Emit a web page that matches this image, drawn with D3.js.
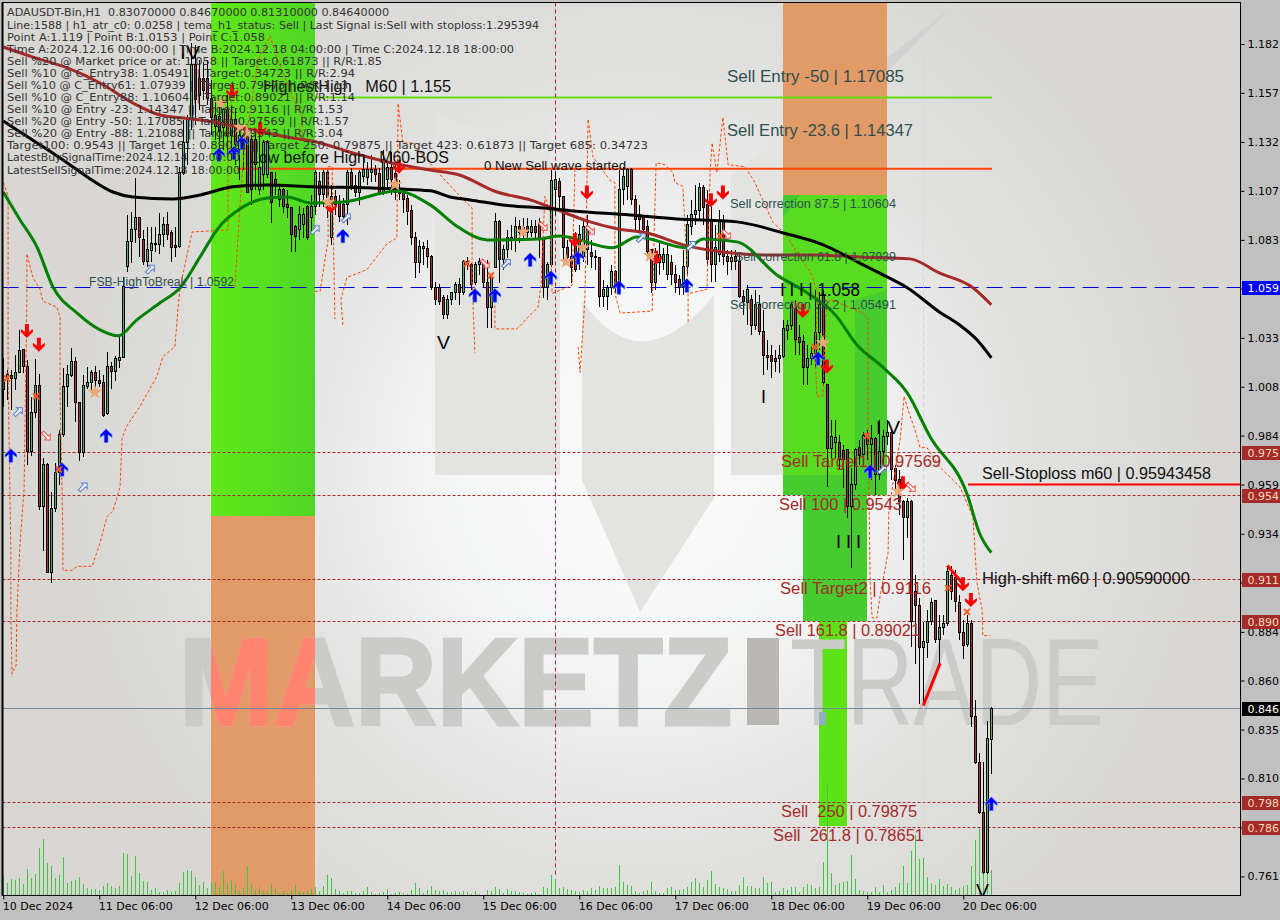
<!DOCTYPE html>
<html><head><meta charset="utf-8">
<style>html,body{margin:0;padding:0;background:#c0c0c0;overflow:hidden}svg{display:block}text{white-space:pre}</style>
<script src="https://cdn.jsdelivr.net/npm/d3@7/dist/d3.min.js"></script></head><body>
<svg id="c" width="1280" height="920"></svg>
<script>
const opens=[1.0072,1.0123,1.0143,1.0128,1.0158,1.0274,1.0189,.9759,.9956,1.0093,.9482,.9694,.9148,.9472,.9653,.9845,1.0088,1.0143,1.0214,1.0007,.9754,1.0088,1.0108,1.0158,1.0118,1.0108,.9951,1.0189,1.0163,1.0219,1.0234,1.0694,1.0820,1.0881,1.0941,1.0830,1.0719,1.0774,1.0810,1.0805,1.0855,1.0906,1.0865,1.0800,1.0795,1.1173,1.1320,1.1436,1.1714,1.1648,1.1648,1.1648,1.1547,1.1461,1.1456,1.1396,1.1487,1.1360,1.1436,1.1285,1.1360,1.1350,1.1335,1.1335,1.1083,1.1158,1.1158,1.1173,1.1133,1.1032,1.1083,1.1007,1.0992,1.0896,1.0881,1.0906,1.0997,1.0941,1.0997,1.1123,1.1057,1.1173,1.0840,1.1047,1.1017,1.1007,1.1007,1.1173,1.1103,1.1067,1.1148,1.1143,1.1173,1.1184,1.1168,1.1067,1.1133,1.1194,1.1168,1.1072,1.1067,1.1037,1.0976,1.0840,1.0714,1.0795,1.0785,1.0744,1.0588,1.0588,1.0537,1.0451,1.0527,1.0562,1.0603,1.0562,1.0719,1.0704,1.0613,1.0704,1.0704,1.0613,1.0487,1.0689,1.0921,1.0729,1.0780,1.0840,1.0830,1.0896,1.0865,1.0896,1.0865,1.0896,1.0906,1.0830,1.0588,1.0704,1.1083,1.1123,1.1047,1.0790,1.0744,1.0805,1.0739,1.0744,1.0780,1.0764,1.0744,1.0739,1.0542,1.0542,1.0588,1.0668,1.0593,1.1083,1.1098,1.1184,1.1032,1.0956,1.0941,1.0896,1.0780,1.0613,1.0714,1.0714,1.0653,1.0714,1.0653,1.0628,1.0593,1.0694,1.0896,1.0956,1.0981,1.1093,1.1007,1.0931,1.0704,1.0754,1.0921,1.0744,1.0719,1.0744,1.0719,1.0542,1.0512,1.0527,1.0396,1.0502,1.0365,1.0244,1.0244,1.0229,1.0229,1.0239,1.0370,1.0396,1.0487,1.0335,1.0315,1.0184,1.0229,1.0254,1.0360,1.0552,1.0098,.9775,.9805,.9805,.9764,.9769,.9482,.9593,.9780,.9744,.9840,.9795,.9825,.9643,.9759,.9835,.9855,.9674,.9618,.9507,.9426,.9507,.9052,.8982,.8770,.8795,.8901,.9007,.8810,.8871,.8891,.9133,.9123,.8997,.8845,.8785,.8891,.8421,.8189,.7936,.7633,.8307];
const closes=[1.0123,1.0148,1.0128,1.0158,1.0269,1.0189,.9759,.9956,1.0093,.9482,.9694,.9148,.9472,.9653,.9845,1.0088,1.0148,1.0214,1.0007,.9754,1.0093,1.0108,1.0158,1.0118,1.0103,.9941,1.0189,1.0163,1.0229,1.0234,1.0593,1.0820,1.0881,1.0941,1.0840,1.0719,1.0780,1.0810,1.0805,1.0855,1.0906,1.0855,1.0790,1.0790,1.1173,1.1320,1.1436,1.1714,1.1537,1.1562,1.1587,1.1547,1.1451,1.1401,1.1385,1.1487,1.1360,1.1436,1.1310,1.1360,1.1285,1.1072,1.1083,1.1209,1.1194,1.1320,1.1320,1.1017,1.1103,1.1083,1.0997,1.0992,1.0855,1.0845,1.0956,1.0956,1.0840,1.0997,1.1173,1.1057,1.1173,1.1042,1.1047,1.1007,1.0946,1.0946,1.1173,1.1103,1.1067,1.1173,1.1184,1.1184,1.1184,1.1158,1.1067,1.1234,1.1194,1.1133,1.1072,1.1067,1.1032,1.0971,1.0840,1.0714,1.0795,1.0785,1.0744,1.0588,1.0527,1.0517,1.0451,1.0527,1.0562,1.0603,1.0562,1.0719,1.0704,1.0603,1.0704,1.0719,1.0613,1.0487,1.0643,1.0921,1.0729,1.0780,1.0840,1.0830,1.0896,1.0865,1.0891,1.0865,1.0896,1.0865,1.0830,1.0588,1.0704,1.1128,1.1133,1.1047,1.0790,1.0739,1.0689,1.0678,1.0855,1.0896,1.0896,1.0744,1.0739,1.0542,1.0577,1.0588,1.0668,1.0593,1.1083,1.1148,1.1184,1.1032,1.0931,1.0931,1.0881,1.0770,1.0613,1.0764,1.0754,1.0754,1.0754,1.0653,1.0613,1.0588,1.0694,1.0906,1.0956,1.0981,1.1093,1.0992,1.0729,1.0704,1.0790,1.0921,1.0744,1.0719,1.0739,1.0719,1.0542,1.0517,1.0577,1.0396,1.0502,1.0365,1.0244,1.0234,1.0214,1.0214,1.0244,1.0380,1.0396,1.0502,1.0325,1.0310,1.0184,1.0229,1.0254,1.0360,1.0502,1.0108,.9775,.9835,.9830,.9719,.9719,.9482,.9593,.9769,.9739,.9840,.9795,.9825,.9643,.9759,.9835,.9855,.9668,.9613,.9507,.9426,.9507,.8901,.8982,.8770,.8800,.8901,.8997,.8810,.8871,.8891,.9153,.9052,.9002,.8845,.8780,.8891,.8421,.8189,.7936,.7633,.8310,.8464];
const highs=[1.0234,1.0174,1.0174,1.0249,1.0376,1.0279,1.0224,1.0037,1.0229,1.0153,.9729,.9704,.9557,.9704,.9870,1.0184,1.0199,1.0284,1.0239,1.0007,1.0148,1.0189,1.0174,1.0194,1.0174,1.0148,1.0264,1.0214,1.0244,1.0340,1.0643,1.0956,1.0971,1.1143,1.0946,1.0881,1.0896,1.0896,1.0896,1.0966,1.0946,1.0971,1.0881,1.0896,1.1199,1.1436,1.1461,1.1825,1.1815,1.1739,1.1729,1.1739,1.1638,1.1537,1.1512,1.1537,1.1562,1.1512,1.1497,1.1436,1.1396,1.1385,1.1360,1.1375,1.1360,1.1335,1.1335,1.1173,1.1173,1.1108,1.1093,1.1083,1.0997,1.0906,1.1002,1.0992,1.1007,1.1057,1.1184,1.1173,1.1184,1.1184,1.1108,1.1083,1.1057,1.1042,1.1184,1.1194,1.1158,1.1184,1.1249,1.1224,1.1259,1.1209,1.1194,1.1285,1.1219,1.1274,1.1209,1.1133,1.1093,1.1057,1.1007,1.0870,1.0830,1.0820,1.0830,1.0754,1.0618,1.0608,1.0552,1.0552,1.0567,1.0618,1.0638,1.0729,1.0744,1.0714,1.0719,1.0739,1.0719,1.0729,1.0643,1.0966,1.0931,1.0805,1.0881,1.0906,1.0946,1.0931,1.0941,1.0941,1.0931,1.0931,1.0941,1.0830,1.0719,1.1184,1.1173,1.1143,1.1047,1.0830,1.0830,1.0870,1.0906,1.0931,1.0956,1.0830,1.0780,1.0744,1.0628,1.0603,1.0704,1.0678,1.1184,1.1199,1.1194,1.1194,1.1057,1.1007,1.0956,1.0931,1.0780,1.0790,1.0820,1.0790,1.0805,1.0754,1.0704,1.0653,1.0780,1.0956,1.1032,1.1108,1.1118,1.1108,1.1083,1.0997,1.0906,1.0981,1.0956,1.0780,1.0780,1.0780,1.0754,1.0577,1.0603,1.0552,1.0577,1.0552,1.0477,1.0325,1.0300,1.0275,1.0300,1.0426,1.0426,1.0517,1.0527,1.0401,1.0350,1.0300,1.0290,1.0577,1.0567,1.0577,1.0098,.9921,.9921,.9845,.9795,.9775,.9679,.9780,.9820,.9860,.9870,.9896,.9835,.9921,.9870,.9921,.9870,.9694,.9668,.9517,.9527,.9517,.9138,.9022,.8901,.8961,.9022,.9012,.8936,.8936,.9184,.9184,.9163,.9037,.8911,.8936,.8911,.8507,.8239,.8189,.8396,.8467];
const lows=[.9987,1.0022,.9971,1.0072,1.0158,1.0158,.9694,.9739,.9931,.9467,.9259,.9148,.9098,.9456,.9593,.9835,.9987,1.0138,.9911,.9714,.9734,1.0078,1.0057,1.0072,1.0088,.9936,.9946,1.0078,1.0118,1.0184,1.0234,1.0668,1.0714,1.0815,1.0744,1.0704,1.0694,1.0719,1.0769,1.0759,1.0795,1.0830,1.0719,1.0744,1.0790,1.1158,1.1209,1.1385,1.1411,1.1487,1.1537,1.1512,1.1360,1.1335,1.1295,1.1285,1.1259,1.1234,1.1209,1.1133,1.1184,1.1072,1.1007,1.1083,1.1057,1.1083,1.1143,1.0916,1.1057,1.0997,1.0966,1.0941,1.0769,1.0769,1.0830,1.0840,1.0830,1.0870,1.0956,1.0997,1.0997,1.0941,1.0805,1.0956,1.0921,1.0921,1.0906,1.1083,1.1047,1.1007,1.1123,1.1108,1.1123,1.1123,1.1057,1.1057,1.1093,1.1057,1.1032,1.1032,1.0966,1.0906,1.0805,1.0638,1.0663,1.0704,1.0689,1.0577,1.0502,1.0502,1.0431,1.0431,1.0502,1.0527,1.0502,1.0552,1.0678,1.0577,1.0603,1.0653,1.0588,1.0386,1.0386,1.0689,1.0613,1.0678,1.0739,1.0780,1.0770,1.0815,1.0830,1.0830,1.0845,1.0830,1.0739,1.0537,1.0527,1.0694,1.0956,1.0992,1.0729,1.0704,1.0613,1.0668,1.0678,1.0719,1.0704,1.0689,1.0678,1.0492,1.0492,1.0477,1.0552,1.0562,1.0552,1.1007,1.1032,1.1007,1.0881,1.0865,1.0840,1.0739,1.0562,1.0577,1.0653,1.0678,1.0628,1.0603,1.0562,1.0552,1.0552,1.0653,1.0855,1.0906,1.0931,1.0906,1.0704,1.0618,1.0618,1.0719,1.0704,1.0653,1.0678,1.0678,1.0537,1.0451,1.0401,1.0350,1.0375,1.0350,1.0148,1.0174,1.0133,1.0163,1.0158,1.0234,1.0325,1.0375,1.0249,1.0249,1.0098,1.0098,1.0199,1.0184,1.0274,1.0098,.9583,.9729,.9729,.9668,.9578,.9426,.9174,.9567,.9694,.9694,.9719,.9618,.9542,.9618,.9668,.9795,.9618,.9567,.9441,.9214,.9325,.8770,.8684,.8482,.8477,.8719,.8886,.8795,.8684,.8835,.8881,.9012,.8951,.8810,.8714,.8770,.8366,.8179,.7926,.7623,.7623,.8131];
const volumes=[20,13,17,16,18,12,27,18,22,48,57,33,30,18,21,39,13,15,16,19,12,8,7,7,6,10,13,10,8,10,43,42,20,40,23,15,14,6,8,4,4,6,4,5,13,24,26,25,19,11,14,8,13,14,9,25,13,16,11,5,8,30,12,6,9,5,5,12,7,3,5,3,6,11,5,4,5,7,9,5,10,21,18,7,5,3,5,5,3,3,5,9,4,2,3,4,7,2,3,4,3,2,6,13,8,3,6,10,6,5,6,4,4,5,4,5,4,2,5,2,1,6,5,9,7,3,7,5,5,4,3,2,3,4,2,9,8,21,17,8,9,7,6,5,4,6,5,8,6,10,8,8,8,9,31,14,11,10,5,3,5,6,14,5,3,3,8,9,6,6,7,9,14,18,13,9,16,25,12,9,8,7,5,5,11,19,10,10,8,8,19,13,14,4,5,8,6,9,9,4,9,12,11,8,9,34,111,23,11,13,14,15,41,17,6,5,4,4,9,4,11,4,6,9,13,30,13,45,61,37,38,19,13,11,17,10,12,9,6,8,10,11,30,56,68,23,23,26];

const blackMA=[[0,1.1431],[4.2,1.1375],[9.2,1.1310],[16,1.1219],[21,1.1148],[27.4,1.1072],[32.4,1.1047],[42.4,1.1037],[49.2,1.1057],[57.4,1.1098],[66,1.1108],[77.4,1.1098],[91,1.1093],[106.7,1.1078],[111.7,1.1047],[116.7,1.1032],[126.7,1.1002],[135,1.0991],[142.4,1.0976],[156.7,1.0956],[168.4,1.0936],[183.4,1.0921],[195,1.0865],[205,1.0805],[214,1.0714],[219,1.0663],[226,1.0588],[234,1.0466],[239,1.0401],[243.4,1.0325],[247,1.0234]];
const brownMA=[[0,1.1805],[7.4,1.1754],[16,1.1699],[24.2,1.1623],[32.4,1.1522],[39.2,1.1461],[45,1.1446],[52.4,1.1426],[62.4,1.1385],[71,1.1350],[79.2,1.1320],[87.4,1.1269],[96,1.1224],[106.7,1.1183],[114,1.1158],[123.4,1.1072],[131.7,1.1032],[138.4,1.0982],[146.7,1.0921],[153.4,1.0886],[161,1.0865],[170,1.0805],[176,1.0780],[190,1.0754],[202.4,1.0754],[214,1.0744],[226.7,1.0734],[234,1.0663],[242.4,1.0588],[247,1.0502]];
const greenMA=[[0,1.1072],[4.2,1.0931],[8.4,1.0795],[12.4,1.0593],[18.4,1.0461],[24.2,1.0375],[28.7,1.0345],[33.4,1.0426],[39.2,1.0512],[44.2,1.0588],[49.2,1.0744],[53.4,1.0881],[60,1.0997],[66,1.1042],[71,1.1047],[76.7,1.1017],[85,1.1022],[98.4,1.1077],[106.7,1.1007],[114,1.0891],[121,1.0830],[134,1.0835],[139,1.0850],[152.4,1.0790],[158.4,1.0845],[171,1.0790],[175,1.0835],[183.4,1.0820],[193.4,1.0653],[201,1.0562],[208,1.0451],[213.4,1.0300],[220,1.0184],[226,1.0057],[231.7,.9835],[241,.9542],[244,.9350],[247,.9249]];

const bandA=[[0,1.112],[1.2,1.105],[1.2,1.014],[1.9,.923],[1.9,.894],[2.2,.862]];
const bandB=[[2.4,.865],[3.2,.868],[3.4,.895],[4.2,.930],[5.2,.957],[5.9,1.053],[5.9,1.076],[7.4,1.064],[9.2,1.058],[9.9,1.052],[13.4,1.049],[14.2,1.044],[14.2,1.007],[14.9,.933],[14.9,.916],[17.2,.916],[18.4,.918],[22.2,.918],[24.2,.930],[25.9,.943],[27.4,.946],[29.2,.958],[29.7,.983],[30.9,.989],[34.2,.999],[38.4,1.014],[39.9,1.024],[42.9,1.029],[43.7,1.049],[44.2,1.059],[47.2,1.087],[56.2,1.088],[56.2,1.139],[57.2,1.154]];
const bandC=[[57.9,1.059],[59.2,1.101],[60.2,1.128],[63.7,1.174],[66.7,1.186],[68.4,1.175],[72.4,1.155],[74.7,1.145],[74.7,1.134]];
const bandD=[[77.9,1.057],[79.2,1.057],[81.2,1.083],[81.2,1.120],[82.2,1.120],[82.9,1.043]];
const bandE=[[84.9,1.040],[84.4,1.053],[85.9,1.064],[90.9,1.068],[95.9,1.081],[98.4,1.084],[98.7,1.152],[99.9,1.132],[102.2,1.132],[108.7,1.117],[114.2,1.105],[117.2,1.099],[117.2,1.063],[117.9,1.026]];
const bandF=[[122.9,1.055],[122.9,1.038],[128.4,1.038],[131.7,1.045],[133.7,1.049],[134.4,1.060],[135.4,1.105],[136.7,1.097],[137.2,1.056],[142.2,1.060],[142.9,1.119]];
const bandG=[[143.7,1.029],[144.2,1.016],[145.4,1.053],[146.2,1.144],[147.4,1.125],[151.7,1.113],[152.9,1.112],[152.9,1.056],[154.2,1.046],[162.2,1.047],[163.2,1.122],[165.4,1.121],[167.4,1.117],[167.9,1.112],[169.9,1.110],[171.2,1.058],[171.2,1.041]];
const bandH=[[171.7,1.056],[175.9,1.058],[176.7,1.117],[177.2,1.132],[178.4,1.117],[179.9,1.145],[181.2,1.121],[185.4,1.120],[187.9,1.112],[189.9,1.103],[192.4,1.092],[195.9,1.085],[199.2,1.074],[201.7,1.067],[203.7,1.056],[202.9,1.027],[203.4,1.004],[204.9,1.004],[205.7,1.048],[206.7,1.053],[214.9,1.046],[216.2,1.043],[216.2,.987],[216.7,.911],[217.2,.892],[218.4,.892],[219.2,.903],[219.9,.911],[221.2,.925],[221.4,.947],[224.2,.982],[225.2,1.004],[226.2,.997],[227.9,.987],[229.2,.978],[230.9,.978],[234.2,.968],[239.2,.958],[242.4,.943],[243.4,.910],[244.7,.896],[244.9,.883],[246.7,.883]];
const bands=[bandA,bandB,bandC,bandD,bandE,bandF,bandG,bandH];

const buySignals=[[1.9,.974],[14.7,.967],[25.7,.984],[53.9,1.126],[57.7,1.127],[59.7,1.132],[84.9,1.085],[117.9,1.055],[122.9,1.055],[131.7,1.073],[136.9,1.064],[143.7,1.074],[153.9,1.059],[170.9,1.060],[203.7,1.023],[216.7,.966],[247,.798]];
const sellSignals=[[5.9,1.037],[8.9,1.030],[57.2,1.158],[64.2,1.139],[81.9,1.100],[98.9,1.120],[145.9,1.107],[142.9,1.083],[163.2,1.074],[176.9,1.103],[179.9,1.107],[199.9,1.047],[205.9,1.019],[224.9,.960],[239.9,.909],[241.9,.901]];
const starMarks=[[22.9,1.006],[54.4,1.152],[59.2,1.140],[60.9,1.137],[81.2,1.102],[97.9,1.111],[129.9,1.087],[140.7,1.072],[144.9,1.079],[161.7,1.075],[204.9,1.031],[223.7,.956]];
const crossMarks=[[0.9,1.013],[8.2,1.004],[13.9,.967],[115.9,1.071],[121.9,1.065],[179.2,1.085],[202.9,1.029],[198.4,1.050],[215.9,.984],[240.9,.895],[236.2,.907]];
const hollowUp=[[3.7,.996],[19.9,.958],[36.7,1.068],[77.9,1.088],[85.7,1.094],[125.7,1.071],[159.4,1.084],[171.9,1.080],[219.7,.967]];
const hollowDown=[[10.7,.984],[134.9,1.090],[120.4,1.071],[146.7,1.088],[180.7,1.086],[226.9,.958]];
const redSegments=[[[230,.8477],[234.2,.869]],[[236,.9184],[240,.909]]];

const priceTicks=[1.1820,1.1573,1.1325,1.1078,1.0830,1.0583,1.0335,1.0088,.9841,.9593,.9345,.9098,.8849,.8603,.8355,.8108,.7860,.7613];
const timeTickIndex=[0,24,48,72,96,120,144,168,192,216,240];
const timeTickLabels=["10 Dec 2024","11 Dec 06:00","12 Dec 06:00","13 Dec 06:00","14 Dec 06:00","15 Dec 06:00","16 Dec 06:00","17 Dec 06:00","18 Dec 06:00","19 Dec 06:00","20 Dec 06:00"];
const targetLevels=[.97569,.9543,.9116,.89021,.79875,.78651];
const breakLevel=1.0592, lastPrice=.8464, highLevel=1.155, pointA=1.119, stopLevel=.95943;
const headerLines=["ADAUSDT-Bin,H1  0.83070000 0.84670000 0.81310000 0.84640000","Line:1588 | h1_atr_c0: 0.0258 | tema_h1_status: Sell | Last Signal is:Sell with stoploss:1.295394","Point A:1.119 | Point B:1.0153 | Point C:1.058","Time A:2024.12.16 00:00:00 | Time B:2024.12.18 04:00:00 | Time C:2024.12.18 18:00:00","Sell %20 @ Market price or at: 1.058 || Target:0.61873 || R/R:1.85","Sell %10 @ C_Entry38: 1.05491 || Target:0.34723 || R/R:2.94","Sell %10 @ C_Entry61: 1.07939 || Target:0.79875 || R/R:1.13","Sell %10 @ C_Entry88: 1.10604 || Target:0.89021 || R/R:1.14","Sell %10 @ Entry -23: 1.14347 || Target:0.9116 || R/R:1.53","Sell %20 @ Entry -50: 1.17085 || Target:0.97569 || R/R:1.57","Sell %20 @ Entry -88: 1.21088 || Target:0.9543 || R/R:3.04","Target100: 0.9543 || Target 161: 0.89021 || Target 250: 0.79875 || Target 423: 0.61873 || Target 685: 0.34723","LatestBuySignalTime:2024.12.14 20:00:00","LatestSellSignalTime:2024.12.18 18:00:00"];
const headerWidths=[382,532,258,507,375,348,341,348,336,342,336,641,233,233];

const svg=d3.select("#c");
const W=1280,H=920,L=2.5,R=1240.5,T=2.5,B=895.5;
const x=d3.scaleLinear().domain([0,247]).range([3.3,991.3]);
const y=d3.scaleLinear().domain([.761,1.182]).range([877,44]);
const vy=d3.scaleLinear().domain([0,111]).range([896,785]);
const FONT="'Liberation Sans',Arial,sans-serif", UI="'DejaVu Sans',sans-serif";
const trunc3=v=>(Math.floor(v*1000+1e-6)/1000).toFixed(3);

const defs=svg.append("defs");
const bg=defs.append("radialGradient").attr("id","bg").attr("gradientUnits","userSpaceOnUse").attr("cx",640).attr("cy",470).attr("r",610);
[[0,"#fbfbfb"],[.3,"#f5f6f6"],[.62,"#e2e2e1"],[.95,"#d8d7d4"],[1,"#d8d7d4"]].forEach(s=>bg.append("stop").attr("offset",s[0]).attr("stop-color",s[1]));
const gg=defs.append("linearGradient").attr("id","gr").attr("x1",0).attr("x2",1);
gg.append("stop").attr("offset",0).attr("stop-color","#60e81a");gg.append("stop").attr("offset",1).attr("stop-color","#50d726");
defs.append("clipPath").attr("id","plot").append("rect").attr("x",L).attr("y",T).attr("width",R-L).attr("height",B-T);
defs.append("clipPath").attr("id","block1").append("rect").attr("x",211).attr("y",T).attr("width",104).attr("height",B-T);

svg.append("rect").attr("width",W).attr("height",H).attr("fill","#c0c0c0");
svg.append("rect").attr("x",L).attr("y",T).attr("width",R-L).attr("height",B-T).attr("fill","url(#bg)");
const g=svg.append("g").attr("clip-path","url(#plot)");

// watermark logo
const logo=g.append("g").attr("fill","#e3e3e2");
const logoShapes=["M435,475L560,475L560,230L547,124L458,124L435,112Z","M582,300Q640,385 714,295L714,498L640,612L582,480Z","M731,475L887,475L887,70L800,125L731,175Z"];
logo.selectAll("path").data(logoShapes).join("path").attr("d",d=>d);
g.append("path").attr("d","M953,6L887,58L887,72Z").attr("fill","#d2d2d2");

// zones
const priceBlocks=[[211,315,3,516,"url(#gr)"],[211,315,516,896,"#e29a66"],[783,887,3,195,"#e29a66"],[783,887,195,495,"#47cc30"],[803,867,495,621,"#47cc30"],[819,847,621,826,"#5de218"]];
g.selectAll("rect.blk").data(priceBlocks).join("rect").attr("class","blk").attr("x",d=>d[0]).attr("width",d=>d[1]-d[0]).attr("y",d=>d[2]).attr("height",d=>d[3]-d[2]).attr("fill",d=>d[4]);
g.append("path").attr("d","M783,218L800,195L887,195L887,290L855,300L855,475L783,475Z").attr("fill","#58dc22");

// brand text
const brand=(sel,f1,f2)=>{
  sel.append("text").attr("x",179).attr("y",725).attr("font-family",FONT).attr("font-weight","bold").attr("font-size",124).attr("fill",f1).attr("stroke",f1).attr("stroke-width",3).attr("textLength",553).attr("lengthAdjust","spacingAndGlyphs").text("MARKETZ");
  sel.append("text").attr("x",790).attr("y",725).attr("font-family",FONT).attr("font-size",124).attr("fill",f1).attr("textLength",314).attr("lengthAdjust","spacingAndGlyphs").text("TRADE");
  sel.append("rect").attr("x",747).attr("y",638).attr("width",32).attr("height",87).attr("fill",f2);
};
brand(g.append("g"),"#cbcbc9","#b9b8b5");
brand(g.append("g").attr("clip-path","url(#block1)"),"#ff8470","#ff8470");
g.append("rect").attr("x",819).attr("y",712).attr("width",7).attr("height",13).attr("fill","#8fb0c0");

// horizontal levels
g.selectAll("line.tg").data(targetLevels).join("line").attr("class","tg").attr("x1",L).attr("x2",R).attr("y1",d=>Math.round(y(d))+.5).attr("y2",d=>Math.round(y(d))+.5).attr("stroke","#a52a2a").attr("stroke-dasharray","3,2");
g.append("line").attr("x1",L).attr("x2",R).attr("y1",287.5).attr("y2",287.5).attr("stroke","#0000dd").attr("stroke-dasharray","16,8");
g.append("line").attr("x1",L).attr("x2",R).attr("y1",Math.round(y(lastPrice))+.5).attr("y2",Math.round(y(lastPrice))+.5).attr("stroke","#778899");
g.append("line").attr("x1",x(52)).attr("x2",992).attr("y1",y(highLevel)).attr("y2",y(highLevel)).attr("stroke","#66dd11").attr("stroke-width",2);
g.append("line").attr("x1",237).attr("x2",992).attr("y1",y(pointA)).attr("y2",y(pointA)).attr("stroke","#ff4500").attr("stroke-width",2);
g.append("line").attr("x1",968).attr("x2",R).attr("y1",y(stopLevel)).attr("y2",y(stopLevel)).attr("stroke","#ff0000").attr("stroke-width",2);
// vertical markers
g.append("line").attr("x1",555.5).attr("x2",555.5).attr("y1",T).attr("y2",875).attr("stroke","#b8183c").attr("stroke-dasharray","4,3");
g.append("line").attr("x1",923.5).attr("x2",923.5).attr("y1",T).attr("y2",852).attr("stroke","#d6d6d6").attr("stroke-dasharray","5,3");

// volumes
g.selectAll("line.v").data(volumes).join("line").attr("class","v").attr("x1",(d,i)=>Math.round(x(i))+.5).attr("x2",(d,i)=>Math.round(x(i))+.5).attr("y1",vy(0)).attr("y2",d=>vy(d)).attr("stroke","#3cc83c");

// candles
const idx=d3.range(opens.length);
const cg=g.append("g").attr("shape-rendering","crispEdges");
cg.selectAll("line.w").data(idx).join("line").attr("class","w").attr("x1",i=>Math.round(x(i))+.5).attr("x2",i=>Math.round(x(i))+.5).attr("y1",i=>y(highs[i])).attr("y2",i=>y(lows[i])).attr("stroke","#000");
cg.selectAll("rect.b").data(idx).join("rect").attr("class","b").attr("x",i=>Math.round(x(i))-.5).attr("width",2)
  .attr("y",i=>y(Math.max(opens[i],closes[i]))).attr("height",i=>Math.max(1,Math.abs(y(opens[i])-y(closes[i]))))
  .attr("fill",i=>closes[i]>=opens[i]?"#2fc07f":"#b3243f").attr("stroke","#000");

// bands
const bandLine=d3.line().x(d=>x(d[0])).y(d=>y(d[1]));
g.selectAll("path.bd").data(bands).join("path").attr("class","bd").attr("d",bandLine).attr("fill","none").attr("stroke","#ff4500").attr("stroke-dasharray","3,2");

// moving averages
const maLine=d3.line().x(d=>x(d[0])).y(d=>y(d[1])).curve(d3.curveMonotoneX);
[[brownMA,"#a52a2a"],[blackMA,"#000"],[greenMA,"#008000"]].forEach(m=>g.append("path").attr("d",maLine(m[0])).attr("fill","none").attr("stroke",m[1]).attr("stroke-width",3));

// red strokes
g.selectAll("path.rs").data(redSegments).join("path").attr("class","rs").attr("d",d3.line().x(d=>x(d[0])).y(d=>y(d[1]))).attr("stroke","#ff0000").attr("stroke-width",3);

// signals
const arrow="M0,-7L6,-1L6,2L2,-1L2,7L-2,7L-2,-1L-6,2L-6,-1Z";
const at=d=>`translate(${x(d[0])},${y(d[1])})`;
g.selectAll("path.sell").data(sellSignals).join("path").attr("class","sell").attr("d",arrow).attr("transform",d=>at(d)+" rotate(180)").attr("fill","#ff0000");
g.selectAll("path.buy").data(buySignals).join("path").attr("class","buy").attr("d",arrow).attr("transform",at).attr("fill","#0000ff").attr("stroke","#87bde0").attr("stroke-width",.6);
g.selectAll("path.star").data(starMarks).join("path").attr("class","star").attr("d",d3.symbol(d3.symbolStar,70)).attr("transform",at).attr("fill","#e8a878");
g.selectAll("path.cross").data(crossMarks).join("path").attr("class","cross").attr("d","M-3,-3L3,3M-3,3L3,-3").attr("transform",at).attr("stroke","#ff5a1e").attr("stroke-width",2);
const hollow="M0,-6L4,-2L1.5,-2L1.5,5L-1.5,5L-1.5,-2L-4,-2Z";
g.selectAll("path.hu").data(hollowUp).join("path").attr("class","hu").attr("d",hollow).attr("transform",d=>at(d)+" rotate(45)").attr("fill","#f2f6fa").attr("stroke","#5878c8");
g.selectAll("path.hd").data(hollowDown).join("path").attr("class","hd").attr("d",hollow).attr("transform",d=>at(d)+" rotate(135)").attr("fill","#f8efe8").attr("stroke","#f05050");

// chart labels
const labelRows=[
 ["Sell Entry -50 | 1.17085",727,76,16,"#2f4f4f",177],["Sell Entry -23.6 | 1.14347",727,130,16,"#2f4f4f",186],
 ["Sell correction 87.5 | 1.10604",730,203,12.5,"#2f4f4f",166],["Sell correction 61.8 | 1.07939",735,256,12.5,"#2f4f4f",161],["Sell correction 38.2 | 1.05491",730,304,12.5,"#2f4f4f",166],
 ["Sell Target1 | 0.97569",781,461,16,"#a52a2a",160],["Sell 100 | 0.9543",779,504,16,"#a52a2a",123],["Sell Target2 | 0.9116",780,588,16,"#a52a2a",151],["Sell 161.8 | 0.89021",775,630,16,"#a52a2a",145],["Sell  250 | 0.79875",781,811,16,"#a52a2a",136],["Sell  261.8 | 0.78651",773,835,16,"#a52a2a",151],
 ["Sell-Stoploss m60 | 0.95943458",982,473,16,"#111",229],["High-shift m60 | 0.90590000",982,578,16,"#111",208],
 ["HighestHigh   M60 | 1.155",263,86,16.5,"#111",188],["Low before High   M60-BOS",250,157,16.5,"#111",199],
 ["0 New Sell wave started",484,165,13.5,"#111",142],["FSB-HighToBreak | 1.0592",89,281,12.5,"#2f4f4f",145],
 ["I I I | 1.058",780,289,19,"#000",80],["V",437,342,19,"#000",13],["IV",180,52,19,"#000",20],["I",761,396,19,"#000",5],["I I I",836,541,19,"#000",25],["I V",876,427,19,"#000",24],["V",976,890,19,"#000",13]];
g.selectAll("text.lb").data(labelRows).join("text").attr("class","lb").attr("x",d=>d[1]).attr("y",d=>d[2]).attr("dy",".36em").attr("font-family",FONT).attr("font-size",d=>d[3]).attr("fill",d=>d[4]).attr("textLength",d=>d[5]).attr("lengthAdjust","spacingAndGlyphs").text(d=>d[0]);

// header
g.selectAll("text.h").data(headerLines).join("text").attr("class","h").attr("x",7).attr("y",(d,i)=>12.7+i*12.08).attr("dy",".36em").attr("font-family",UI).attr("font-size",10.5).attr("fill","#333").attr("textLength",(d,i)=>headerWidths[i]).attr("lengthAdjust","spacingAndGlyphs").text(d=>d);

// frame + axes
svg.append("rect").attr("x",L).attr("y",T).attr("width",R-L).attr("height",B-T).attr("fill","none").attr("stroke","#000");
svg.append("line").attr("x1",L).attr("x2",L).attr("y1",T).attr("y2",B).attr("stroke","#000").attr("stroke-width",2);
const ya=svg.append("g").attr("transform",`translate(${R},0)`).call(d3.axisRight(y).tickValues(priceTicks).tickSize(4).tickFormat(trunc3));
ya.select(".domain").remove();
ya.selectAll("text").attr("x",7).attr("font-family",UI).attr("font-size",11).attr("fill","#000");
const xa=svg.append("g").attr("transform",`translate(0,${B})`).call(d3.axisBottom(x).tickValues(timeTickIndex).tickSize(4).tickFormat((d,i)=>timeTickLabels[i]));
xa.select(".domain").remove();
xa.selectAll("text").attr("text-anchor","start").attr("x",-1).attr("y",7).attr("font-family",UI).attr("font-size",11).attr("fill","#000");

// price flags
const flags=[[breakLevel,"#0000ff","#fff"],...targetLevels.map(v=>[v,"#a52a2a","#f5dfb8"]),[lastPrice,"#000","#fff"]];
const fg=svg.selectAll("g.fl").data(flags).join("g").attr("class","fl").attr("transform",d=>`translate(1242,${Math.round(y(d[0]))+1})`);
fg.append("rect").attr("y",-7).attr("width",38).attr("height",14).attr("fill",d=>d[1]);
fg.append("text").attr("x",5.5).attr("dy",".36em").attr("font-family",UI).attr("font-size",11).attr("fill",d=>d[2]).text(d=>trunc3(d[0]));
</script></body></html>
